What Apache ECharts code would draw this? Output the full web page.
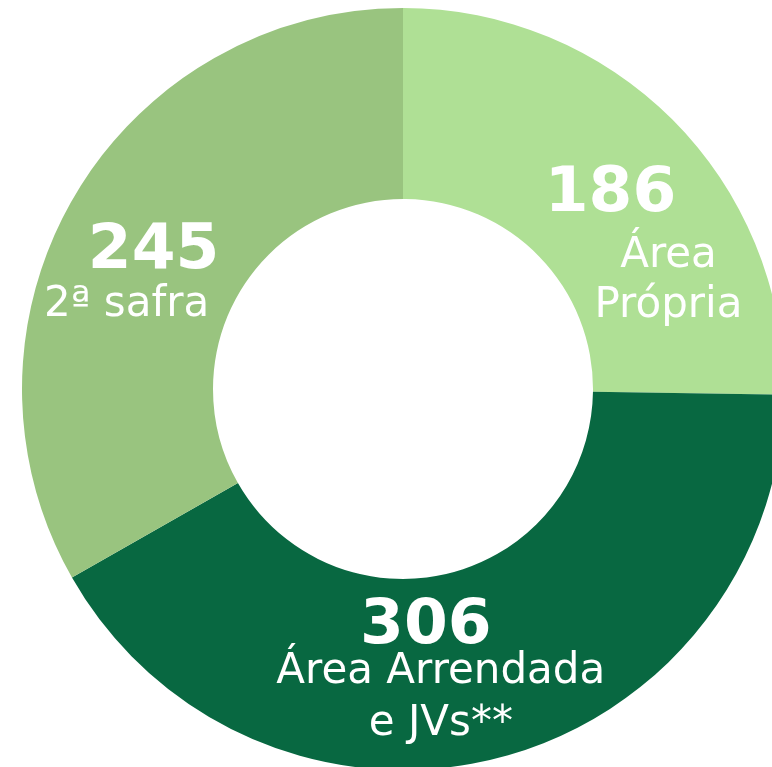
<!DOCTYPE html>
<html>
<head>
<meta charset="utf-8">
<script src="https://cdn.jsdelivr.net/npm/echarts@6/dist/echarts.min.js"></script>
<style>
  html, body { margin: 0; padding: 0; background: #fff; }
  #chart { width: 772px; height: 767px; }
</style>
</head>
<body>
<div id="chart"></div>
<script>
const categories = ['Área\nPrópria', 'Área Arrendada\ne JVs**', '2ª safra'];
const values = [186, 306, 245];
const colors = ['#afe095', '#086841', '#99c47f'];

// per-slice label tweaks (offset from the slice centre, spacing of the lines)
const labelTweaks = [
  { offset: [60, 58], numLH: 74, txtLH: 50, numPad: [0, 116, 0, 0] },
  { offset: [-34, 10], numLH: 40, txtLH: 52, numPad: [0, 30, 0, 0] },
  { offset: [-27, 33], numLH: 56, txtLH: 50, numPad: [0, 0, 0, 54] }
];

const chart = echarts.init(document.getElementById('chart'));

chart.setOption({
  animation: false,
  series: [
    {
      type: 'pie',
      center: [403, 389],
      radius: [190, 381],
      startAngle: 90,
      clockwise: true,
      avoidLabelOverlap: false,
      labelLine: { show: false },
      emphasis: { disabled: true },
      data: values.map((v, i) => ({
        value: v,
        name: categories[i],
        itemStyle: { color: colors[i] },
        label: {
          show: true,
          position: 'inside',
          offset: labelTweaks[i].offset,
          align: 'center',
          verticalAlign: 'middle',
          formatter: (p) => `{n|${p.value}}\n{t|${p.name}}`,
          rich: {
            n: {
              color: '#fff',
              fontFamily: 'DejaVu Sans',
              fontWeight: 'bold',
              fontSize: 63,
              lineHeight: labelTweaks[i].numLH,
              padding: labelTweaks[i].numPad
            },
            t: {
              color: '#fff',
              fontFamily: 'DejaVu Sans',
              fontSize: 42,
              lineHeight: labelTweaks[i].txtLH
            }
          }
        }
      }))
    }
  ]
});
</script>
</body>
</html>
